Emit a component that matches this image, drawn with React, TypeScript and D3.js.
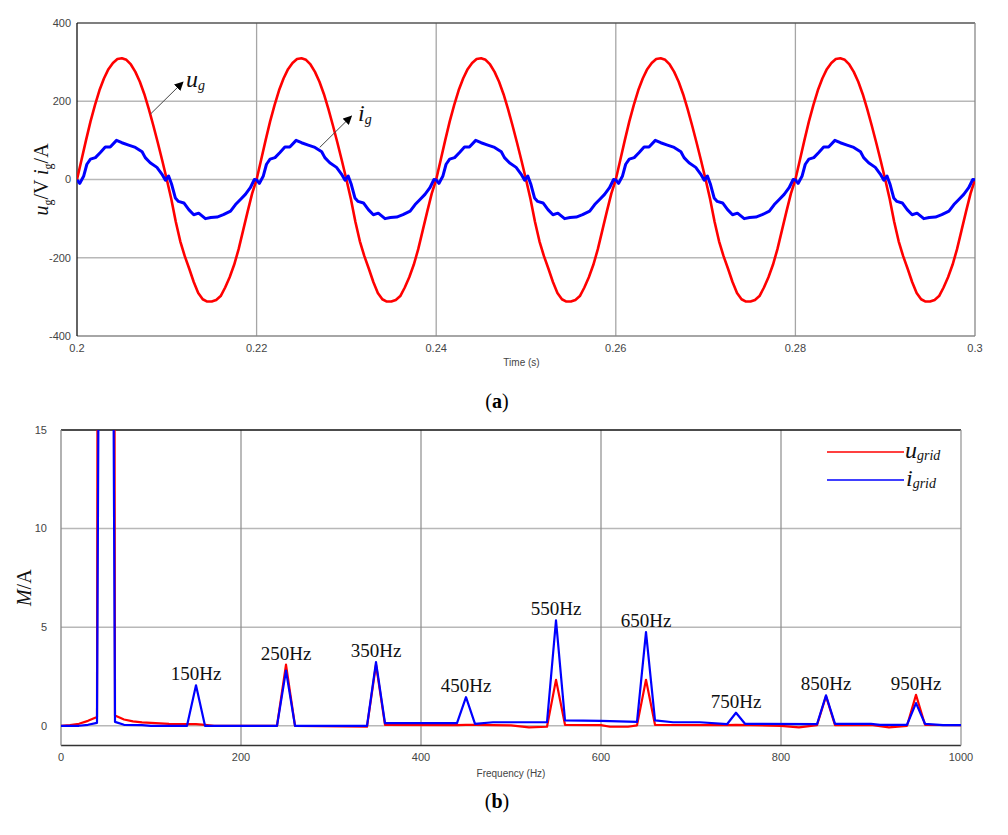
import * as d3 from "d3";

// one period of grid voltage (ms, V); the waveform repeats each 20 ms
const uCycle: [number, number][] = [
  [0, 0], [0.5, 50], [1, 100], [1.5, 148], [2, 190], [2.5, 228], [3, 258], [3.5, 282],
  [4, 298], [4.5, 308], [5, 310], [5.5, 306], [6, 294], [6.5, 275], [7, 250], [7.5, 218],
  [8, 180], [8.5, 138], [9, 94], [9.5, 48], [10, 0], [10.5, -50], [11, -108], [11.5, -158],
  [12, -196], [12.5, -228], [13, -262], [13.5, -290], [14, -306], [14.5, -312], [15, -312],
  [15.5, -308], [16, -298], [16.5, -276], [17, -250], [17.5, -218], [18, -178], [18.5, -130],
  [19, -82], [19.5, -36],
];

// one period of grid current (ms, A)
const iCycle: [number, number][] = [
  [0, -1], [0.3, -10], [0.75, 9], [1.1, 39], [1.5, 52], [2.05, 56], [2.6, 69], [3.15, 83],
  [3.7, 83], [4.4, 100], [5, 94], [5.75, 88], [6.5, 82], [7.25, 71], [7.6, 56], [8.15, 43],
  [8.9, 31], [9.45, 14], [9.85, -2], [10.2, 9], [10.55, -13], [10.95, -47], [11.3, -56],
  [11.9, -60], [12.45, -77], [13, -90], [13.55, -86], [14.3, -100], [14.9, -97], [15.6, -96],
  [16.3, -90], [17.1, -81], [17.65, -64], [18.2, -51], [18.75, -38], [19.3, -21], [19.75, 0],
];

const cycles = 5;
const timeTicks = [0.2, 0.22, 0.24, 0.26, 0.28, 0.3];
const timeTickLabels = ["0.2", "0.22", "0.24", "0.26", "0.28", "0.3"];
const waveTicks = [400, 200, 0, -200, -400];

// spectrum (Hz, magnitude)
const uGrid: [number, number][] = [
  [0, 0], [10, 0.03], [20, 0.1], [30, 0.25], [40, 0.45], [50, 311], [60, 0.52], [70, 0.32],
  [80, 0.22], [90, 0.17], [100, 0.15], [120, 0.1], [140, 0.08], [150, 0.08], [160, 0.05],
  [170, 0], [240, 0], [250, 3.1], [260, 0], [340, -0.05], [350, 3.1], [360, 0.05], [440, 0.03],
  [450, 0.05], [460, 0.05], [500, 0.02], [520, -0.08], [540, -0.05], [550, 2.33], [560, 0.05],
  [600, 0.03], [610, -0.05], [630, -0.05], [640, 0.02], [650, 2.33], [660, 0.05], [740, 0.03],
  [750, 0.05], [800, 0], [820, -0.08], [840, 0.03], [850, 1.5], [860, 0.03], [900, 0.05],
  [920, -0.08], [940, 0], [950, 1.57], [960, 0.05], [1000, 0.03],
];
const iGrid: [number, number][] = [
  [0, 0], [20, 0], [30, 0.05], [40, 0.15], [50, 100], [60, 0.2], [70, 0.05], [90, 0.03],
  [100, 0], [140, 0], [150, 2.05], [160, 0], [240, 0], [250, 2.8], [260, 0], [340, 0],
  [350, 3.23], [360, 0.13], [440, 0.13], [450, 1.45], [460, 0.1], [480, 0.18], [540, 0.18],
  [550, 5.35], [560, 0.27], [600, 0.25], [640, 0.2], [650, 4.75], [660, 0.27], [680, 0.18],
  [710, 0.18], [740, 0.08], [750, 0.66], [760, 0.1], [840, 0.08], [850, 1.54], [860, 0.1],
  [900, 0.1], [910, 0.05], [940, 0.05], [950, 1.15], [960, 0.1], [980, 0.03], [1000, 0.03],
];
const harmonics = [150, 250, 350, 450, 550, 650, 750, 850, 950];
const freqTicks = [0, 200, 400, 600, 800, 1000];
const magTicks = [15, 10, 5, 0];

const tile = (cycle: [number, number][]) => {
  const out: [number, number][] = [];
  for (let k = 0; k < cycles; k++) {
    cycle.forEach(([ms, v]) => out.push([0.2 + k * 0.02 + ms / 1000, v]));
  }
  out.push([0.2 + cycles * 0.02, cycle[0][1]]);
  return out;
};

const serif = "'Liberation Serif', 'Times New Roman', serif";
const sans = "'Liberation Sans', Arial, sans-serif";

export default function App() {
  // top plot
  const x1 = d3.scaleLinear().domain([0.2, 0.3]).range([77, 975]);
  const y1 = d3.scaleLinear().domain([-400, 400]).range([336, 23]);
  const line1 = d3.line<[number, number]>().x((d) => x1(d[0])).y((d) => y1(d[1]));
  const uData = tile(uCycle);
  const iData = tile(iCycle);

  // bottom plot
  const x2 = d3.scaleLinear().domain([0, 1000]).range([61, 961]);
  const y2 = d3.scaleLinear().domain([-1, 15]).range([745.5, 430]);
  const line2 = d3.line<[number, number]>().x((d) => x2(d[0])).y((d) => y2(d[1]));

  const peakOf = (f: number) =>
    Math.max(
      ...uGrid.filter((d) => d[0] === f).map((d) => d[1]),
      ...iGrid.filter((d) => d[0] === f).map((d) => d[1])
    );

  const [ax0, ax1] = x1.range();
  const [ay0, ay1] = [y1(400), y1(-400)];
  const [bx0, bx1] = x2.range();
  const [by0, by1] = [y2(15), y2(-1)];

  return (
    <svg
      width={1008}
      height={835}
      style={{ position: "absolute", left: 0, top: 0, background: "#fff" }}
    >
      <defs>
        <clipPath id="clipA">
          <rect x={ax0} y={ay0} width={ax1 - ax0} height={ay1 - ay0} />
        </clipPath>
        <clipPath id="clipB">
          <rect x={bx0} y={by0} width={bx1 - bx0} height={by1 - by0} />
        </clipPath>
        <marker id="arr" viewBox="0 0 10 10" refX="9" refY="5" markerWidth="9" markerHeight="9" orient="auto">
          <path d="M0,0 L10,5 L0,10 z" fill="#000" />
        </marker>
      </defs>

      {/* ---------- (a) ---------- */}
      {waveTicks.filter((t) => t !== 400 && t !== -400).map((t) => (
        <line key={t} x1={ax0} x2={ax1} y1={y1(t)} y2={y1(t)} stroke="#b8b8b8" strokeWidth={1.5} />
      ))}
      {timeTicks.slice(1, -1).map((t) => (
        <line key={t} x1={x1(t)} x2={x1(t)} y1={ay0} y2={ay1} stroke="#a6a6a6" strokeWidth={1.3} />
      ))}
      <line x1={ax0} x2={ax1} y1={ay0} y2={ay0} stroke="#555" strokeWidth={1.3} />
      <line x1={ax0} x2={ax1} y1={ay1} y2={ay1} stroke="#888" strokeWidth={1.3} />
      <line x1={ax1} x2={ax1} y1={ay0} y2={ay1} stroke="#888" strokeWidth={1.3} />
      <line x1={ax0} x2={ax0} y1={ay0} y2={ay1} stroke="#111" strokeWidth={1.3} />

      <g clipPath="url(#clipA)">
        <path d={line1(uData) ?? ""} fill="none" stroke="#ff0000" strokeWidth={2.6} strokeLinejoin="round" />
        <path d={line1(iData) ?? ""} fill="none" stroke="#0000ff" strokeWidth={3} strokeLinejoin="round" />
      </g>

      {waveTicks.map((t) => (
        <text key={t} x={71} y={y1(t)} dy="0.35em" textAnchor="end" fontFamily={sans} fontSize={11} fill="#444">
          {t < 0 ? `-${-t}` : t}
        </text>
      ))}
      {timeTicks.map((t, i) => (
        <text key={t} x={x1(t)} y={352} textAnchor="middle" fontFamily={sans} fontSize={11} fill="#444">
          {timeTickLabels[i]}
        </text>
      ))}
      <text x={x1(0.2495)} y={366} textAnchor="middle" fontFamily={sans} fontSize={10} fill="#444">
        Time (s)
      </text>
      <text transform={`translate(48, ${y1(0)}) rotate(-90)`} textAnchor="middle" fontFamily={serif} fontSize={20} fill="#111">
        <tspan fontStyle="italic">u</tspan>
        <tspan fontSize={12} dy={4}>g</tspan>
        <tspan dy={-4}>/V </tspan>
        <tspan fontStyle="italic">i</tspan>
        <tspan fontSize={12} dy={4}>g</tspan>
        <tspan dy={-4}>/A</tspan>
      </text>

      {/* annotations */}
      <line x1={x1(0.20817)} y1={y1(167)} x2={x1(0.2118)} y2={y1(249)} stroke="#444" strokeWidth={1} markerEnd="url(#arr)" />
      <text x={x1(0.21214)} y={y1(236)} fontFamily={serif} fontSize={24} fontStyle="italic" fill="#111">
        u<tspan fontSize={14} dy={3}>g</tspan>
      </text>
      <line x1={x1(0.22703)} y1={y1(82)} x2={x1(0.23056)} y2={y1(162)} stroke="#444" strokeWidth={1} markerEnd="url(#arr)" />
      <text x={x1(0.2313)} y={y1(150)} fontFamily={serif} fontSize={24} fontStyle="italic" fill="#111">
        i<tspan fontSize={14} dy={3}>g</tspan>
      </text>

      <text x={497} y={408} textAnchor="middle" fontFamily={serif} fontSize={20} fill="#000">
        (<tspan fontWeight="bold">a</tspan>)
      </text>

      {/* ---------- (b) ---------- */}
      {magTicks.filter((t) => t !== 15).map((t) => (
        <line key={t} x1={bx0} x2={bx1} y1={y2(t)} y2={y2(t)} stroke="#b8b8b8" strokeWidth={1.5} />
      ))}
      {freqTicks.slice(1, -1).map((t) => (
        <line key={t} x1={x2(t)} x2={x2(t)} y1={by0} y2={by1} stroke="#8c8c8c" strokeWidth={1.2} />
      ))}
      <line x1={bx0} x2={bx1} y1={by0} y2={by0} stroke="#111" strokeWidth={1.3} />
      <line x1={bx0} x2={bx1} y1={by1} y2={by1} stroke="#333" strokeWidth={1.3} />
      <line x1={bx1} x2={bx1} y1={by0} y2={by1} stroke="#999" strokeWidth={1.3} />
      <line x1={bx0} x2={bx0} y1={by0} y2={by1} stroke="#888" strokeWidth={1.3} />

      <g clipPath="url(#clipB)">
        <path d={line2(uGrid) ?? ""} fill="none" stroke="#ff0000" strokeWidth={2.2} strokeLinejoin="round" />
        <path d={line2(iGrid) ?? ""} fill="none" stroke="#0000ff" strokeWidth={2.2} strokeLinejoin="round" />
      </g>

      {harmonics.map((f) => (
        <text key={f} x={x2(f)} y={y2(peakOf(f)) - 5} textAnchor="middle" fontFamily={serif} fontSize={19} fill="#111">
          {`${f}Hz`}
        </text>
      ))}

      {magTicks.map((t) => (
        <text key={t} x={47} y={y2(t)} dy="0.35em" textAnchor="end" fontFamily={sans} fontSize={11} fill="#444">
          {t}
        </text>
      ))}
      {freqTicks.map((t) => (
        <text key={t} x={x2(t)} y={761} textAnchor="middle" fontFamily={sans} fontSize={11} fill="#444">
          {t}
        </text>
      ))}
      <text x={x2(500)} y={777} textAnchor="middle" fontFamily={sans} fontSize={10} fill="#444">
        Frequency (Hz)
      </text>
      <text transform={`translate(31, ${y2(7)}) rotate(-90)`} textAnchor="middle" fontFamily={serif} fontSize={20} fill="#111">
        <tspan fontStyle="italic">M</tspan>/A
      </text>

      {/* legend */}
      <line x1={827} x2={904} y1={452} y2={452} stroke="#ff0000" strokeWidth={1.6} />
      <text x={905} y={458} fontFamily={serif} fontSize={24} fontStyle="italic" fill="#111">
        u<tspan fontSize={14} dy={2}>grid</tspan>
      </text>
      <line x1={827} x2={904} y1={480} y2={480} stroke="#0000ff" strokeWidth={1.6} />
      <text x={906} y={486} fontFamily={serif} fontSize={24} fontStyle="italic" fill="#111">
        i<tspan fontSize={14} dy={2}>grid</tspan>
      </text>

      <text x={497} y={808} textAnchor="middle" fontFamily={serif} fontSize={20} fill="#000">
        (<tspan fontWeight="bold">b</tspan>)
      </text>
    </svg>
  );
}
